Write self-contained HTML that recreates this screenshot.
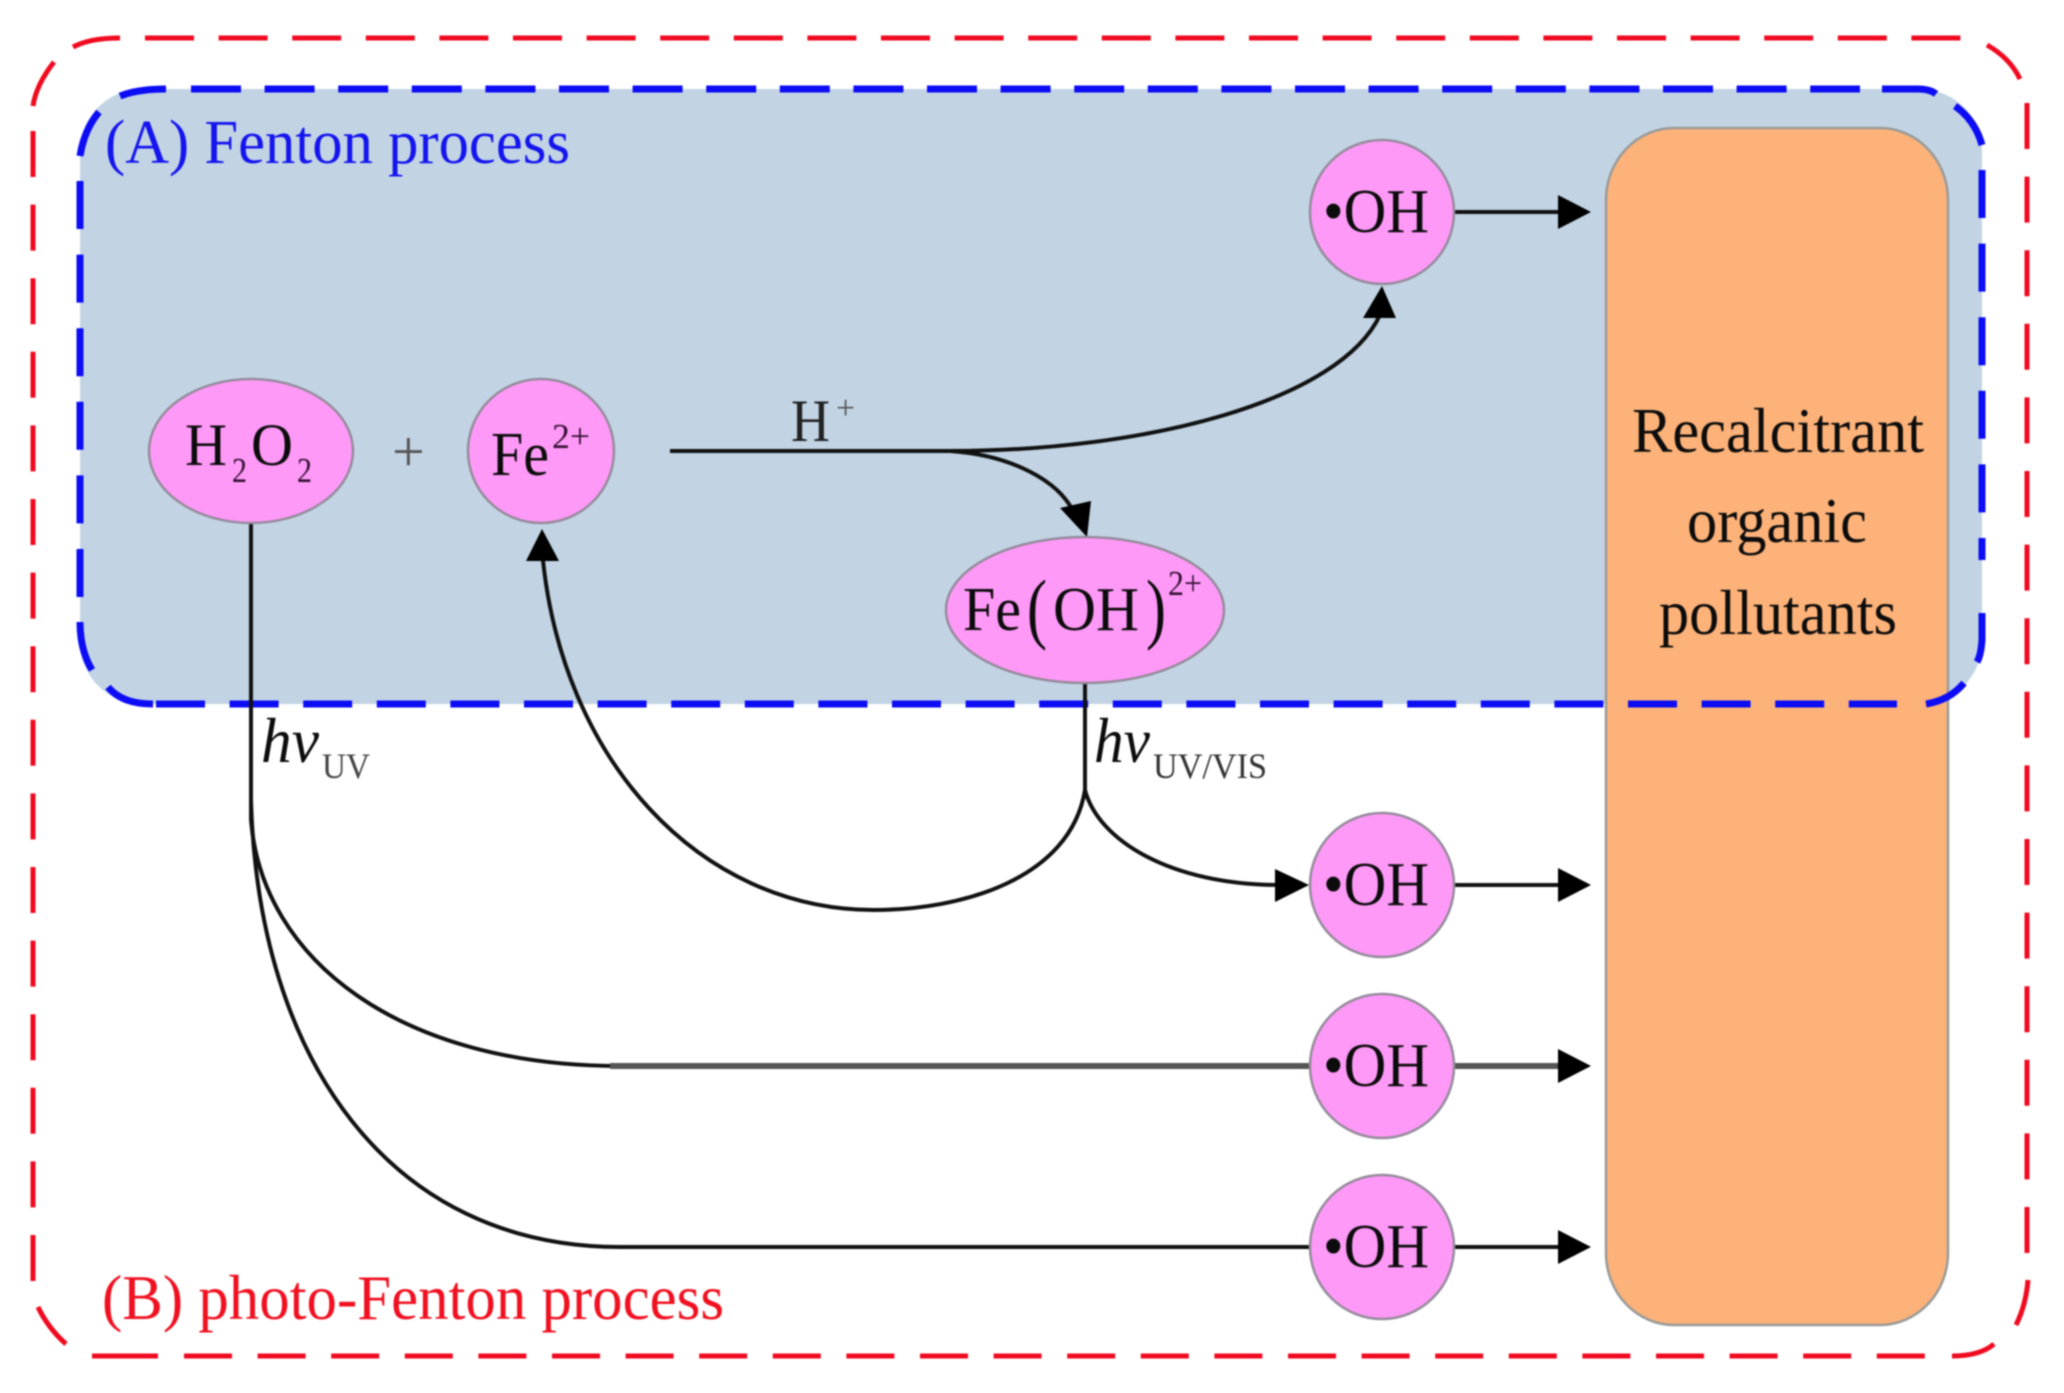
<!DOCTYPE html>
<html>
<head>
<meta charset="utf-8">
<style>
html,body{margin:0;padding:0;background:#fff;width:2064px;height:1393px;overflow:hidden}
svg{display:block;filter:blur(0.9px)}
text{font-family:"Liberation Serif","Times New Roman",serif;fill:#0c0c0c}
.r{fill:none;stroke:#f00a20;stroke-width:5}
.b{fill:none;stroke:#0c0cf5;stroke-width:7}
.n{fill:#ff99f8;stroke:#958b9b;stroke-width:2.5}
.l{fill:none;stroke:#111;stroke-width:4}
.h{fill:#000}
</style>
</head>
<body>
<svg width="2064" height="1393" viewBox="0 0 2064 1393" xmlns="http://www.w3.org/2000/svg">
<rect width="2064" height="1393" fill="#fff"/>

<!-- Red dashed boundary -->
<path class="r" d="M54 62Q36 85 33 106M73 47Q90 38 120 38"/>
<path class="r" d="M145 38H1961" stroke-dasharray="49 24.6"/>
<path class="r" d="M1987 45Q2010 58 2020 79"/>
<path class="r" d="M2027 103V1253" stroke-dasharray="46 27.6"/>
<path class="r" d="M2028 1280Q2026 1305 2016 1325"/>
<path class="r" d="M1994 1344Q1980 1356 1952 1356"/>
<path class="r" d="M184 1356H1926" stroke-dasharray="48 25.6"/>
<path class="r" d="M92 1356H158"/>
<path class="r" d="M38 1307Q48 1328 66 1344"/>
<path class="r" d="M33 131V1282" stroke-dasharray="46 27.6"/>

<!-- Blue region fill -->
<rect x="80" y="89" width="1902" height="615" rx="62" ry="62" fill="#c2d4e4"/>

<!-- Orange box -->
<rect x="1606" y="128" width="342" height="1197" rx="68" ry="72" fill="#fdb279" stroke="#9a9a98" stroke-width="2.5"/>

<!-- Blue dashed boundary -->
<path class="b" d="M120 96Q138 89 166 89"/>
<path class="b" d="M191 89H1860" stroke-dasharray="50 23.6"/>
<path class="b" d="M1882 89H1918Q1930 89 1936 94"/>
<path class="b" d="M1955 106Q1975 120 1982 145"/>
<path class="b" d="M1982 170V560" stroke-dasharray="48 25.6"/>
<path class="b" d="M1982 613V640Q1981 655 1977 662"/>
<path class="b" d="M1964 683Q1950 700 1926 704"/>
<path class="b" d="M156 704H1897" stroke-dasharray="49 24.6"/>
<path class="b" d="M108 687Q122 704 153 704"/>
<path class="b" d="M99 112Q84 130 80 156"/>
<path class="b" d="M80 181V597" stroke-dasharray="48 25.6"/>
<path class="b" d="M80 622Q80 650 92 670"/>

<!-- Connectors -->
<path class="l" d="M251 523V820"/>
<path class="l" d="M251 800C258 1060 390 1247 620 1247H1310"/>
<path class="l" d="M251 820C262 960 400 1066 620 1066" stroke-width="3.5"/>
<path d="M610 1066H1310" fill="none" stroke="#555" stroke-width="6"/>
<path class="l" d="M670 451H950C1150 451 1340 400 1380 315" stroke-width="5"/>
<path class="l" d="M950 451C1010 455 1060 480 1075 515"/>
<path class="l" d="M1085 684V790"/>
<path class="l" d="M542 550C560 760 700 910 874 910C960 910 1070 880 1085 790"/>
<path class="l" d="M1085 790C1098 840 1170 885 1280 885"/>

<!-- Arrow heads into nodes -->
<polygon class="h" points="542,529 526,561 559,561"/>
<polygon class="h" points="1382,286 1363,318 1396,318"/>
<polygon class="h" points="1087,537 1060,508 1091,501"/>
<polygon class="h" points="1309,885 1275,869 1275,902"/>

<!-- Outgoing arrows -->
<path class="l" d="M1453 212H1562"/><polygon class="h" points="1591,212 1558,195 1558,229"/>
<path class="l" d="M1453 885H1562"/><polygon class="h" points="1591,885 1558,868 1558,902"/>
<path d="M1453 1066H1562" fill="none" stroke="#555" stroke-width="6"/><polygon class="h" points="1591,1066 1558,1049 1558,1083"/>
<path class="l" d="M1453 1247H1562"/><polygon class="h" points="1591,1247 1558,1230 1558,1264"/>

<!-- Nodes -->
<ellipse class="n" cx="251" cy="451" rx="102" ry="72"/>
<ellipse class="n" cx="541" cy="451" rx="73" ry="72"/>
<ellipse class="n" cx="1085" cy="610" rx="139" ry="73"/>
<ellipse class="n" cx="1382" cy="212" rx="72" ry="72"/>
<ellipse class="n" cx="1382" cy="885" rx="72" ry="72"/>
<ellipse class="n" cx="1382" cy="1066" rx="72" ry="72"/>
<ellipse class="n" cx="1382" cy="1247" rx="72" ry="72"/>

<!-- Region labels -->
<text x="105" y="163" font-size="62" textLength="465" lengthAdjust="spacingAndGlyphs" style="fill:#1414ee">(A) Fenton process</text>
<text x="102" y="1319" font-size="64" textLength="622" lengthAdjust="spacingAndGlyphs" style="fill:#f01020">(B) photo-Fenton process</text>

<!-- H2O2 -->
<text x="185" y="465" font-size="60" textLength="42" lengthAdjust="spacingAndGlyphs">H</text>
<text x="232" y="482" font-size="35" textLength="15" lengthAdjust="spacingAndGlyphs" style="fill:#331133">2</text>
<text x="251" y="465" font-size="60" textLength="42" lengthAdjust="spacingAndGlyphs">O</text>
<text x="297" y="482" font-size="35" textLength="15" lengthAdjust="spacingAndGlyphs" style="fill:#331133">2</text>
<text x="392" y="471" font-size="58" style="fill:#555">+</text>

<!-- Fe2+ -->
<text x="491" y="475" font-size="62" textLength="58" lengthAdjust="spacingAndGlyphs">Fe</text>
<text x="552" y="448" font-size="35" textLength="38" lengthAdjust="spacingAndGlyphs" style="fill:#331133">2+</text>

<!-- H+ -->
<text x="791" y="441" font-size="60" textLength="39" lengthAdjust="spacingAndGlyphs" style="fill:#222">H</text>
<text x="836" y="419" font-size="34" style="fill:#555">+</text>

<!-- Fe(OH)2+ -->
<text x="963" y="630" font-size="62" textLength="58" lengthAdjust="spacingAndGlyphs">Fe</text>
<text x="1027" y="634" font-size="78" textLength="20" lengthAdjust="spacingAndGlyphs">(</text>
<text x="1053" y="630" font-size="62" textLength="86" lengthAdjust="spacingAndGlyphs">OH</text>
<text x="1146" y="634" font-size="78" textLength="20" lengthAdjust="spacingAndGlyphs">)</text>
<text x="1168" y="595" font-size="35" textLength="34" lengthAdjust="spacingAndGlyphs" style="fill:#331133">2+</text>

<!-- OH labels -->
<text x="1323" y="232" font-size="62" textLength="106" lengthAdjust="spacingAndGlyphs">•OH</text>
<text x="1323" y="905" font-size="62" textLength="106" lengthAdjust="spacingAndGlyphs">•OH</text>
<text x="1323" y="1086" font-size="62" textLength="106" lengthAdjust="spacingAndGlyphs">•OH</text>
<text x="1323" y="1267" font-size="62" textLength="106" lengthAdjust="spacingAndGlyphs">•OH</text>

<!-- hv labels -->
<text x="261" y="762" font-size="64" font-style="italic" textLength="58" lengthAdjust="spacingAndGlyphs">hv</text>
<text x="322" y="778" font-size="36" textLength="48" lengthAdjust="spacingAndGlyphs" style="fill:#444">UV</text>
<text x="1094" y="762" font-size="64" font-style="italic" textLength="56" lengthAdjust="spacingAndGlyphs">hv</text>
<text x="1153" y="778" font-size="36" textLength="114" lengthAdjust="spacingAndGlyphs" style="fill:#333">UV/VIS</text>

<!-- Pollutants label -->
<text x="1632" y="452" font-size="63" textLength="292" lengthAdjust="spacingAndGlyphs">Recalcitrant</text>
<text x="1687" y="542" font-size="63" textLength="180" lengthAdjust="spacingAndGlyphs">organic</text>
<text x="1659" y="634" font-size="63" textLength="238" lengthAdjust="spacingAndGlyphs">pollutants</text>
</svg>
</body>
</html>
